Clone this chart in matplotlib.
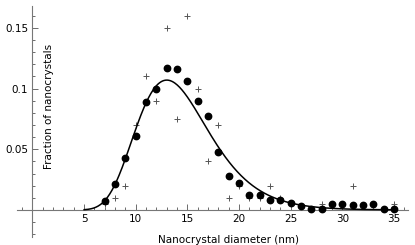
import matplotlib.pyplot as plt
import numpy as np

# measured size distribution (dots) and a second sample (crosses)
diameter = list(range(7, 36))
fraction_dots = [0.007, 0.021, 0.043, 0.061, 0.089, 0.100, 0.117, 0.116, 0.106, 0.090,
                 0.077, 0.048, 0.028, 0.022, 0.012, 0.012, 0.008, 0.008, 0.006, 0.003,
                 0.001, 0.001, 0.005, 0.005, 0.004, 0.004, 0.005, 0.001, 0.001]

cross_diameter = [7, 8, 9, 10, 11, 12, 13, 14, 15, 16, 17, 18, 19, 20, 21, 22, 23, 24, 25, 28, 31, 35]
fraction_cross = [0.005, 0.010, 0.020, 0.070, 0.110, 0.090, 0.150, 0.075, 0.160, 0.100, 0.040,
                  0.070, 0.010, 0.020, 0.010, 0.010, 0.020, 0.010, 0.005, 0.005, 0.020, 0.005]

# log-normal fit: mode, peak height, log width
fit_mode = 13.0
fit_peak = 0.107
fit_sigma = 0.27

x_fit = np.linspace(5.0, 35.0, 400)
y_fit = fit_peak * np.exp(-np.log(x_fit / fit_mode) ** 2 / (2 * fit_sigma ** 2))

fig = plt.figure(figsize=(4.15, 2.45), dpi=100)
ax = fig.add_axes([0, 0, 1, 1])

ax.plot(x_fit, y_fit, color='black', lw=1.1, zorder=3)
ax.plot(cross_diameter, fraction_cross, '+', color='#555555', ms=5, mew=0.7, zorder=2)
ax.plot(diameter, fraction_dots, 'o', color='black', ms=4.6, zorder=4)

ax.set_xlim(-3.146, 37.03)
ax.set_ylim(-0.0289, 0.1730)

for s in ['top', 'right']:
    ax.spines[s].set_visible(False)
ax.spines['left'].set_position(('data', 0))
ax.spines['bottom'].set_position(('data', 0))
ax.spines['left'].set_bounds(-0.022, 0.168)
ax.spines['bottom'].set_bounds(-1.5, 36.4)
for s in ['left', 'bottom']:
    ax.spines[s].set_color('#777777')
    ax.spines[s].set_linewidth(0.8)

ax.set_xticks([5, 10, 15, 20, 25, 30, 35])
ax.set_xticks([i for i in range(-1, 37) if i % 5 != 0], minor=True)
ax.set_yticks([0.05, 0.1, 0.15])
ax.set_yticklabels(['0.05', '0.1', '0.15'])
ax.set_yticks([-0.02, -0.01, 0.01, 0.02, 0.03, 0.04, 0.06, 0.07, 0.08, 0.09,
               0.11, 0.12, 0.13, 0.14, 0.16], minor=True)
ax.tick_params(which='both', direction='in', color='#555555', labelsize=7.5, width=0.6)
ax.tick_params(which='major', length=4)
ax.tick_params(which='minor', length=2)
ax.tick_params(axis='x', pad=3)
ax.tick_params(axis='y', pad=3)

fig.text(48.5 / 415, 1 - 106.7 / 245, 'Fraction of nanocrystals', rotation=90,
         ha='center', va='center', fontsize=7.5)
fig.text(228 / 415, 1 - 240 / 245, 'Nanocrystal diameter (nm)',
         ha='center', va='center', fontsize=7.5)

plt.savefig('out.png', dpi=100)
